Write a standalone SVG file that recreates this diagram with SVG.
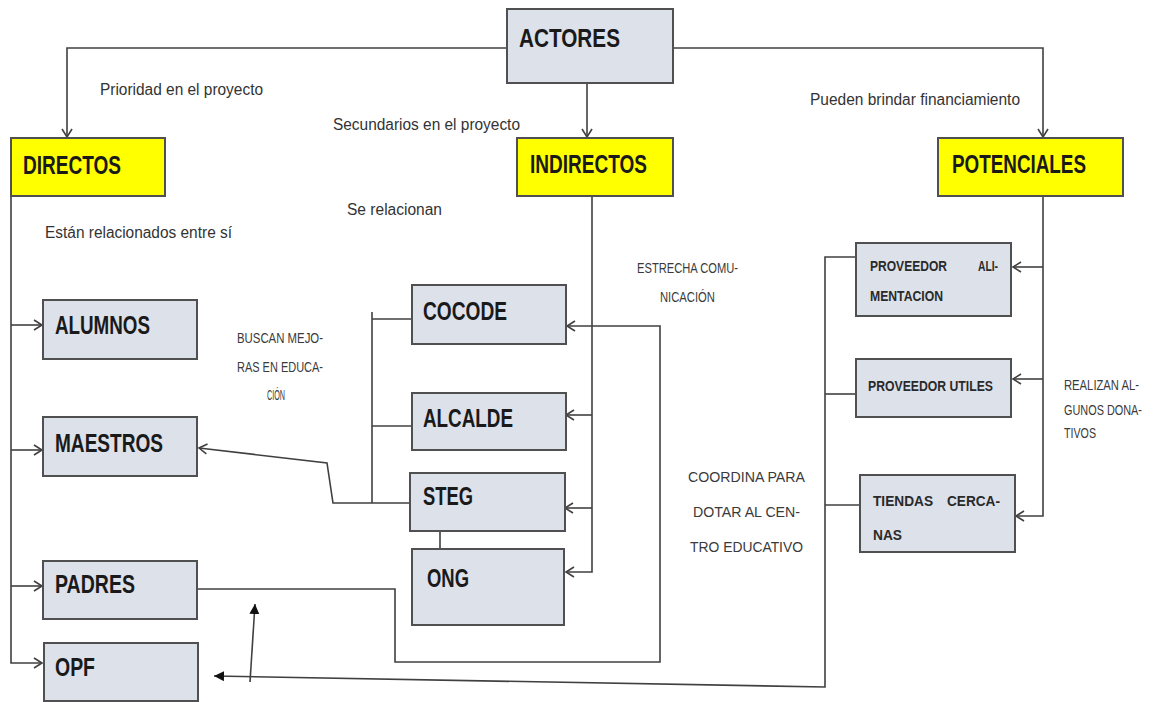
<svg xmlns="http://www.w3.org/2000/svg" width="1161" height="702" viewBox="0 0 1161 702">
<defs>
<style>
.box{fill:#dde1ea;stroke:#505050;stroke-width:2}
.ybox{fill:#ffff00;stroke:#505050;stroke-width:2}
.lbl{font-family:"Liberation Sans",Arial,sans-serif;font-weight:bold;fill:#1a1a1a;font-size:25px}
.sm{font-family:"Liberation Sans",Arial,sans-serif;fill:#333;font-size:16px}
.cal{font-family:"Liberation Sans",Arial,sans-serif;fill:#3a3a3a;font-size:14px}
.bsm{font-family:"Liberation Sans",Arial,sans-serif;font-weight:bold;fill:#2a2a2a;font-size:14px}
.ln{fill:none;stroke:#404040;stroke-width:1.6}
</style>
<marker id="open" markerUnits="userSpaceOnUse" markerWidth="12" markerHeight="14" refX="9" refY="6" orient="auto">
<path d="M1,1 L9,6 L1,11" fill="none" stroke="#404040" stroke-width="1.6"/>
</marker>
<marker id="fill" markerUnits="userSpaceOnUse" markerWidth="12" markerHeight="12" refX="10" refY="5" orient="auto">
<path d="M0,0 L10,5 L0,10 Z" fill="#111"/>
</marker>
</defs>
<rect width="1161" height="702" fill="#fff"/>

<g id="connectors">
<path class="ln" d="M507,48 H67 V137" marker-end="url(#open)"/>
<path class="ln" d="M673,48 H1043 V137" marker-end="url(#open)"/>
<path class="ln" d="M587,83 V137" marker-end="url(#open)"/>
<path class="ln" d="M11,196 V663 H42" marker-end="url(#open)"/>
<path class="ln" d="M11,325 H42" marker-end="url(#open)"/>
<path class="ln" d="M11,450 H42" marker-end="url(#open)"/>
<path class="ln" d="M11,586 H42" marker-end="url(#open)"/>
<path class="ln" d="M592,196 V572 H566" marker-end="url(#open)"/>
<path class="ln" d="M592,415 H566" marker-end="url(#open)"/>
<path class="ln" d="M592,508 H565" marker-end="url(#open)"/>
<path class="ln" d="M197,589 H395 V662 H660 V326 H567" marker-end="url(#open)"/>
<path class="ln" d="M372,312 V503"/>
<path class="ln" d="M372,319 H412"/>
<path class="ln" d="M372,426 H412"/>
<path class="ln" d="M410,503 H333 L327,463 L199,448" marker-end="url(#open)"/>
<path class="ln" d="M440,520 V549"/>
<path class="ln" d="M1043,196 V516 H1016" marker-end="url(#open)"/>
<path class="ln" d="M1043,267 H1013" marker-end="url(#open)"/>
<path class="ln" d="M1043,379 H1013" marker-end="url(#open)"/>
<path class="ln" d="M857,257 H825 V687 L214,676" marker-end="url(#fill)"/>
<path class="ln" d="M825,394 H856"/>
<path class="ln" d="M825,505 H860"/>
<path class="ln" d="M250,682 L255,604" marker-end="url(#fill)"/>
</g>

<g id="actores">
<rect class="box" x="507" y="9" width="166" height="74"/>
<text class="lbl" x="519" y="47" font-size="28" textLength="101" lengthAdjust="spacingAndGlyphs">ACTORES</text>
</g>
<g id="directos">
<rect class="ybox" x="11" y="138" width="154" height="58"/>
<text class="lbl" x="23" y="174" textLength="98" lengthAdjust="spacingAndGlyphs">DIRECTOS</text>
</g>
<g id="indirectos">
<rect class="ybox" x="517" y="138" width="156" height="58"/>
<text class="lbl" x="530" y="173" textLength="117" lengthAdjust="spacingAndGlyphs">INDIRECTOS</text>
</g>
<g id="potenciales">
<rect class="ybox" x="938" y="138" width="185" height="58"/>
<text class="lbl" x="952" y="173" textLength="134" lengthAdjust="spacingAndGlyphs">POTENCIALES</text>
</g>
<g id="alumnos">
<rect class="box" x="43" y="300" width="154" height="59"/>
<text class="lbl" x="55" y="334" textLength="95" lengthAdjust="spacingAndGlyphs">ALUMNOS</text>
</g>
<g id="maestros">
<rect class="box" x="43" y="417" width="154" height="59"/>
<text class="lbl" x="55" y="452" textLength="108" lengthAdjust="spacingAndGlyphs">MAESTROS</text>
</g>
<g id="padres">
<rect class="box" x="43" y="561" width="154" height="58"/>
<text class="lbl" x="55" y="593" textLength="80" lengthAdjust="spacingAndGlyphs">PADRES</text>
</g>
<g id="opf">
<rect class="box" x="44" y="643" width="154" height="58"/>
<text class="lbl" x="55" y="676" textLength="40" lengthAdjust="spacingAndGlyphs">OPF</text>
</g>
<g id="cocode">
<rect class="box" x="412" y="285" width="154" height="59"/>
<text class="lbl" x="423" y="320" textLength="84" lengthAdjust="spacingAndGlyphs">COCODE</text>
</g>
<g id="alcalde">
<rect class="box" x="412" y="393" width="154" height="57"/>
<text class="lbl" x="423" y="427" textLength="90" lengthAdjust="spacingAndGlyphs">ALCALDE</text>
</g>
<g id="steg">
<rect class="box" x="410" y="473" width="155" height="58"/>
<text class="lbl" x="423" y="505" textLength="50" lengthAdjust="spacingAndGlyphs">STEG</text>
</g>
<g id="ong">
<rect class="box" x="412" y="549" width="152" height="76"/>
<text class="lbl" x="427" y="587" textLength="42" lengthAdjust="spacingAndGlyphs">ONG</text>
</g>
<g id="proveedor-alimentacion">
<rect class="box" x="856" y="243" width="155" height="73"/>
<text class="bsm" x="870" y="271" textLength="77" lengthAdjust="spacingAndGlyphs">PROVEEDOR</text>
<text class="bsm" x="978" y="271" textLength="20" lengthAdjust="spacingAndGlyphs">ALI-</text>
<text class="bsm" x="870" y="301" textLength="73" lengthAdjust="spacingAndGlyphs">MENTACION</text>
</g>
<g id="proveedor-utiles">
<rect class="box" x="856" y="359" width="155" height="58"/>
<text class="bsm" x="868" y="391" textLength="125" lengthAdjust="spacingAndGlyphs">PROVEEDOR UTILES</text>
</g>
<g id="tiendas-cercanas">
<rect class="box" x="860" y="475" width="155" height="77"/>
<text class="bsm" x="873" y="506" textLength="60" lengthAdjust="spacingAndGlyphs">TIENDAS</text>
<text class="bsm" x="947" y="506" textLength="53" lengthAdjust="spacingAndGlyphs">CERCA-</text>
<text class="bsm" x="873" y="540" textLength="29" lengthAdjust="spacingAndGlyphs">NAS</text>
</g>

<g id="labels">
<text class="sm" x="100" y="95" textLength="163" lengthAdjust="spacingAndGlyphs">Prioridad en el proyecto</text>
<text class="sm" x="333" y="130" textLength="187" lengthAdjust="spacingAndGlyphs">Secundarios en el proyecto</text>
<text class="sm" x="810" y="105" textLength="210" lengthAdjust="spacingAndGlyphs">Pueden brindar financiamiento</text>
<text class="sm" x="45" y="238" textLength="187" lengthAdjust="spacingAndGlyphs">Están relacionados entre sí</text>
<text class="sm" x="347" y="215" textLength="95" lengthAdjust="spacingAndGlyphs">Se relacionan</text>
<text class="cal" x="237" y="343" textLength="86" lengthAdjust="spacingAndGlyphs">BUSCAN MEJO-</text>
<text class="cal" x="237" y="372" textLength="86" lengthAdjust="spacingAndGlyphs">RAS EN EDUCA-</text>
<text class="cal" x="267" y="400" textLength="18" lengthAdjust="spacingAndGlyphs">CIÓN</text>
<text class="cal" x="637" y="273" textLength="101" lengthAdjust="spacingAndGlyphs">ESTRECHA COMU-</text>
<text class="cal" x="660" y="302" textLength="55" lengthAdjust="spacingAndGlyphs">NICACIÓN</text>
<text class="cal" x="688" y="482" textLength="117" lengthAdjust="spacingAndGlyphs">COORDINA PARA</text>
<text class="cal" x="693" y="517" textLength="107" lengthAdjust="spacingAndGlyphs">DOTAR AL CEN-</text>
<text class="cal" x="690" y="552" textLength="113" lengthAdjust="spacingAndGlyphs">TRO EDUCATIVO</text>
<text class="cal" x="1064" y="390" font-size="11" textLength="75" lengthAdjust="spacingAndGlyphs">REALIZAN AL-</text>
<text class="cal" x="1064" y="415" font-size="11" textLength="78" lengthAdjust="spacingAndGlyphs">GUNOS DONA-</text>
<text class="cal" x="1064" y="438" font-size="11" textLength="32" lengthAdjust="spacingAndGlyphs">TIVOS</text>
</g>
</svg>
